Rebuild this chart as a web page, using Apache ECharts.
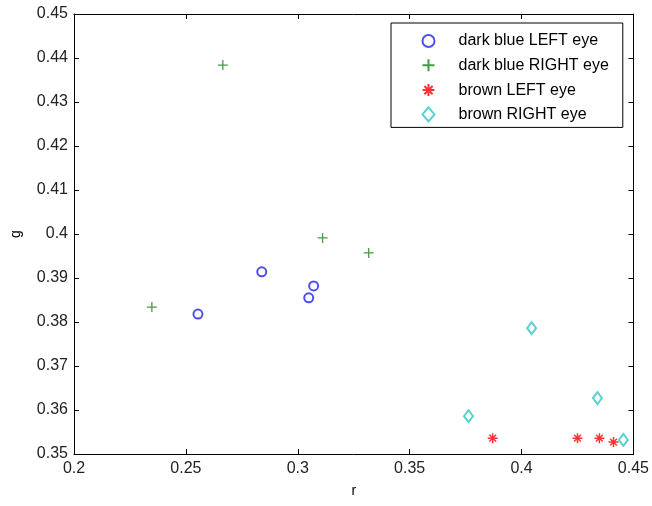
<!DOCTYPE html>
<html>
<head>
<meta charset="utf-8">
<script src="https://cdn.jsdelivr.net/npm/echarts@6/dist/echarts.min.js"></script>
<style>html,body{margin:0;padding:0;background:#fff}#c{width:652px;height:506px}</style>
</head>
<body>
<div id="c"></div>
<script>
const seriesNames = ['dark blue LEFT eye', 'dark blue RIGHT eye', 'brown LEFT eye', 'brown RIGHT eye'];
const blueLeftR = [0.2554, 0.2839, 0.3049, 0.3071];
const blueLeftG = [0.3818, 0.3914, 0.3855, 0.3882];
const blueRightR = [0.2348, 0.2665, 0.3111, 0.3317];
const blueRightG = [0.3834, 0.4384, 0.3991, 0.3957];
const brownLeftR = [0.3871, 0.4250, 0.4348, 0.4411];
const brownLeftG = [0.3536, 0.3536, 0.3536, 0.3527];
const brownRightR = [0.3763, 0.4045, 0.4339, 0.4455];
const brownRightG = [0.3586, 0.3786, 0.3627, 0.3532];
const xTicks = [0.2, 0.25, 0.3, 0.35, 0.4, 0.45];
const yTicks = [0.35, 0.36, 0.37, 0.38, 0.39, 0.4, 0.41, 0.42, 0.43, 0.44, 0.45];

const pair = (xs, ys) => xs.map((x, i) => [x, ys[i]]);
const FONT = 'Liberation Sans';
const plusPath = 'path://M5,0 L5,10 M0,5 L10,5';
const starPath = 'path://M5,0 L5,10 M0,5 L10,5 M1.6,1.6 L8.4,8.4 M8.4,1.6 L1.6,8.4';

const chart = echarts.init(document.getElementById('c'), null, {renderer: 'canvas'});
const axisCommon = {
  type: 'value',
  axisLine: {show: true, lineStyle: {color: '#000', width: 1}},
  axisTick: {show: true, inside: true, length: 5, lineStyle: {color: '#000'}},
  splitLine: {show: false}
};
chart.setOption({
  animation: false,
  backgroundColor: '#fff',
  grid: {left: 74, right: 18, top: 14, bottom: 52, containLabel: false},
  legend: {
    orient: 'vertical',
    left: 391, top: 23,
    padding: [10, 14, 5, 29],
    itemWidth: 12, itemHeight: 14, itemGap: 7.8,
    borderColor: '#000', borderWidth: 1, backgroundColor: '#fff',
    textStyle: {fontFamily: FONT, fontSize: 16, color: '#000', padding: [0, 0, 0, 19]},
    data: seriesNames
  },
  xAxis: [
    Object.assign({}, axisCommon, {
      min: xTicks[0], max: xTicks[xTicks.length - 1], interval: 0.05,
      name: 'r', nameLocation: 'middle', nameGap: 30,
      nameTextStyle: {fontFamily: FONT, fontSize: 14, color: '#000'},
      axisLabel: {fontFamily: FONT, fontSize: 16, color: '#222', margin: 7}
    }),
    Object.assign({}, axisCommon, {
      position: 'top', min: xTicks[0], max: xTicks[xTicks.length - 1], interval: 0.05,
      axisLabel: {show: false}
    })
  ],
  yAxis: [
    Object.assign({}, axisCommon, {
      min: yTicks[0], max: yTicks[yTicks.length - 1], interval: 0.01,
      name: 'g', nameLocation: 'middle', nameGap: 51, nameRotate: 90,
      nameTextStyle: {fontFamily: FONT, fontSize: 14, color: '#000'},
      axisLabel: {fontFamily: FONT, fontSize: 16, color: '#222', margin: 6,
        formatter: v => String(+v.toFixed(2))}
    }),
    Object.assign({}, axisCommon, {
      position: 'right', min: yTicks[0], max: yTicks[yTicks.length - 1], interval: 0.01,
      axisLabel: {show: false}
    })
  ],
  series: [
    {name: seriesNames[0], type: 'scatter', data: pair(blueLeftR, blueLeftG),
      symbol: 'emptyCircle', symbolSize: 9,
      itemStyle: {color: '#2222ee', borderColor: '#2222ee', borderWidth: 1.3}},
    {name: seriesNames[1], type: 'scatter', data: pair(blueRightR, blueRightG),
      symbol: plusPath, symbolSize: 10,
      itemStyle: {color: 'none', borderColor: '#1a7f1a', borderWidth: 1.3}},
    {name: seriesNames[2], type: 'scatter', data: pair(brownLeftR, brownLeftG),
      symbol: starPath, symbolSize: 10,
      itemStyle: {color: 'none', borderColor: '#ff0000', borderWidth: 1.5}},
    {name: seriesNames[3], type: 'scatter', data: pair(brownRightR, brownRightG),
      symbol: 'emptyDiamond', symbolSize: [9, 12],
      itemStyle: {color: '#33c4c4', borderColor: '#33c4c4', borderWidth: 1.3}}
  ]
});
</script>
</body>
</html>
